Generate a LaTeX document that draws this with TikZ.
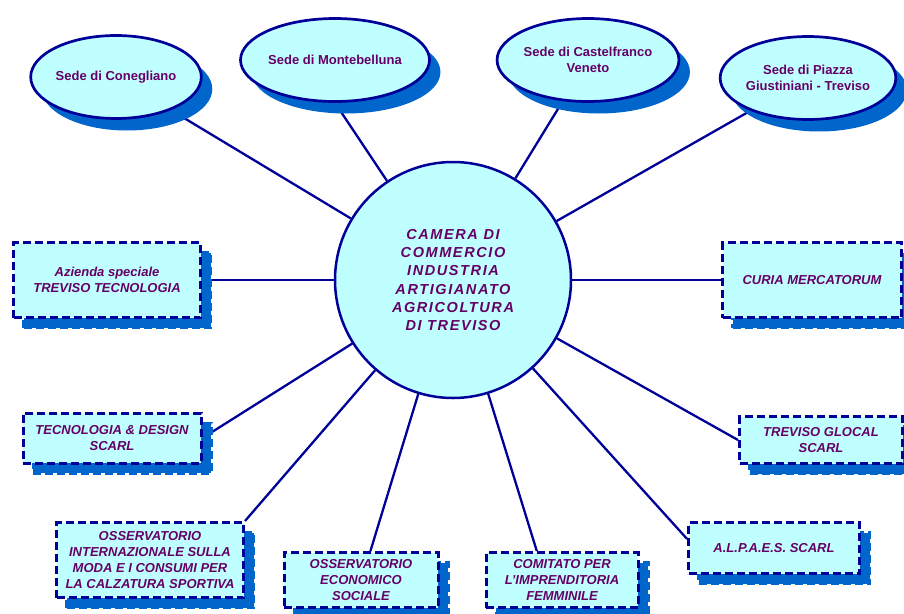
\documentclass[tikz,border=0pt]{standalone}
\usepackage{fontspec}
\setmainfont{Liberation Sans}
\usetikzlibrary{shapes.geometric,shadows,backgrounds}
\definecolor{linkblue}{RGB}{0,0,153}
\definecolor{boxfill}{RGB}{192,255,255}
\definecolor{shadowblue}{RGB}{0,102,204}
\definecolor{labelcolor}{RGB}{102,0,102}
\tikzset{
  sede/.style={
    ellipse,
    draw=linkblue,
    fill=boxfill,
    line width=2.7pt,
    minimum width=169pt,
    minimum height=83pt,
    inner sep=0pt,
    align=center,
    text=labelcolor,
    font=\fontsize{13}{15.7}\selectfont\bfseries,
    drop shadow={shadow xshift=11pt, shadow yshift=-12pt, fill=shadowblue, opacity=1}
  },
  ente/.style={
    rectangle,
    draw=linkblue,
    fill=boxfill,
    line width=3pt,
    dash pattern=on 8pt off 4pt,
    inner sep=0pt,
    align=center,
    text=labelcolor,
    font=\fontsize{13}{16}\selectfont\bfseries\itshape,
    drop shadow={shadow xshift=10pt, shadow yshift=-10pt, fill=shadowblue,
      draw=shadowblue, line width=3pt, dash pattern=on 8pt off 4pt, opacity=1}
  },
  camera/.style={
    circle,
    draw=linkblue,
    fill=boxfill,
    line width=2.5pt,
    minimum size=236pt,
    inner sep=0pt,
    align=center,
    text=labelcolor,
    font=\fontsize{14.5}{18.3}\selectfont\bfseries\itshape\addfontfeature{LetterSpace=11}
  },
  link/.style={
    draw=linkblue,
    line width=2.3pt
  }
}

\begin{document}
\begin{tikzpicture}[x=1pt,y=-1pt]
  \useasboundingbox (0,0) rectangle (904,613);
  \clip (0,0) rectangle (904,613);
  % Camera di Commercio di Treviso: sedi ed enti collegati
  \node[camera] (cciaa) at (453,280) {CAMERA DI\\COMMERCIO\\INDUSTRIA\\ARTIGIANATO\\AGRICOLTURA\\DI TREVISO};

  \node[sede] (cone) at (116,77) {Sede di Conegliano};
  \node[sede] (mont) at (335,60) {Sede di Montebelluna};
  \node[sede] (cast) at (588,60) {Sede di Castelfranco\\Veneto};
  \node[sede] (piaz) at (808,78) {Sede di Piazza\\Giustiniani - Treviso};

  \node[ente, minimum width=187pt, minimum height=75pt] (azie) at (107,280) {Azienda speciale\\TREVISO TECNOLOGIA};
  \node[ente, minimum width=178pt, minimum height=50pt] (tecn) at (112,438) {TECNOLOGIA \& DESIGN\\SCARL};
  \node[ente, minimum width=187pt, minimum height=75pt] (ossi) at (150,560) {OSSERVATORIO\\INTERNAZIONALE SULLA\\MODA E I CONSUMI PER\\LA CALZATURA SPORTIVA};
  \node[ente, minimum width=154pt, minimum height=55pt] (osse) at (361,580) {OSSERVATORIO\\ECONOMICO\\SOCIALE};
  \node[ente, minimum width=152pt, minimum height=55pt] (comi) at (562,580) {COMITATO PER\\L'IMPRENDITORIA\\FEMMINILE};
  \node[ente, minimum width=171pt, minimum height=51pt] (alpa) at (774,548) {A.L.P.A.E.S. SCARL};
  \node[ente, minimum width=163pt, minimum height=47pt] (gloc) at (821,440) {TREVISO GLOCAL\\SCARL};
  \node[ente, minimum width=179pt, minimum height=75pt] (curi) at (812,280) {CURIA MERCATORUM};

  \begin{scope}[on background layer]
    \draw[link] (cciaa) -- (cone);
    \draw[link] (cciaa) -- (mont.south);
    \draw[link] (cciaa) -- (cast);
    \draw[link] (cciaa) -- (piaz);
    \draw[link] (cciaa) -- (azie.east);
    \draw[link] (cciaa) -- (tecn.east);
    \draw[link] (cciaa) -- (ossi.north east);
    \draw[link] (cciaa) -- (osse.72);
    \draw[link] (cciaa) -- (comi.131);
    \draw[link] (cciaa) -- (alpa.174);
    \draw[link] (cciaa) -- (gloc.west);
    \draw[link] (cciaa) -- (curi.west);
  \end{scope}
\end{tikzpicture}
\end{document}
